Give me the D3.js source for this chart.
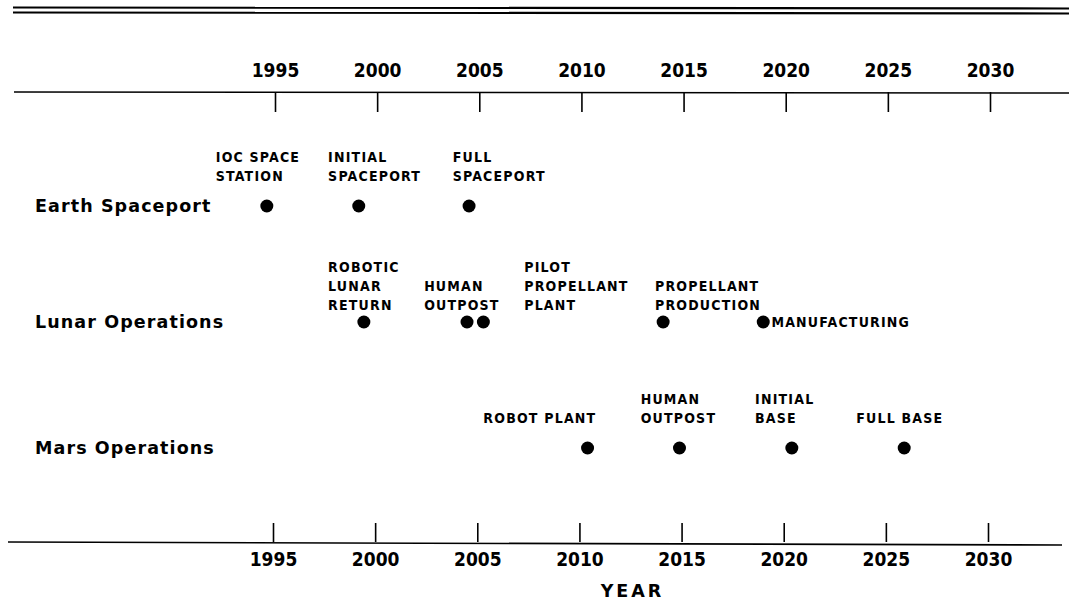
<!DOCTYPE html>
<html>
<head>
<meta charset="utf-8">
<script src="https://cdn.jsdelivr.net/npm/d3@7"></script>
<style>
body { margin: 0; background: #fff; }
svg text { fill: #000; }
.yr { font-family: "DejaVu Sans Condensed", "DejaVu Sans", sans-serif; font-stretch: condensed; font-weight: bold; font-size: 19px; }
.row { font-family: "DejaVu Sans", sans-serif; font-weight: bold; font-size: 17.5px; letter-spacing: 1.1px; }
.ms { font-family: "DejaVu Sans Condensed", "DejaVu Sans", sans-serif; font-stretch: condensed; font-weight: bold; font-size: 14px; letter-spacing: 1.2px; }
</style>
</head>
<body>
<svg id="chart" width="1069" height="604"></svg>
<script>
// tick years on both axes
var tickYears = [1995, 2000, 2005, 2010, 2015, 2020, 2025, 2030];

var rowNames = ["Earth Spaceport", "Lunar Operations", "Mars Operations"];

// Earth spaceport milestones
var earthYears = [1994.6, 1999.1, 2004.5];
var earthLabels = [["IOC SPACE", "STATION"], ["INITIAL", "SPACEPORT"], ["FULL", "SPACEPORT"]];
var earthLabelYears = [1992.1, 1997.6, 2003.7];

// lunar operations milestones
var lunarYears = [1999.35, 2004.4, 2005.2, 2014.0, 2018.9];
var lunarLabels = [["ROBOTIC", "LUNAR", "RETURN"], ["HUMAN", "OUTPOST"], ["PILOT", "PROPELLANT", "PLANT"], ["PROPELLANT", "PRODUCTION"], ["MANUFACTURING"]];
var lunarLabelYears = [1997.6, 2002.3, 2007.2, 2013.6, 2019.3];

// mars operations milestones
var marsYears = [2010.3, 2014.8, 2020.3, 2025.8];
var marsLabels = [["ROBOT PLANT"], ["HUMAN", "OUTPOST"], ["INITIAL", "BASE"], ["FULL BASE"]];
var marsLabelYears = [2005.2, 2012.9, 2018.5, 2023.45];

var svg = d3.select("#chart");

var x = d3.scaleLinear().domain([1995, 2030]).range([275, 990]);
var y = d3.scaleOrdinal().domain(rowNames).range([206, 322, 448]);  // row centres

// double rule along the top
[7.5, 12.5].forEach(function(yy) {
    svg.append("line")
        .attr("x1", 13).attr("x2", 1069)
        .attr("y1", yy).attr("y2", yy + 1)
        .style("stroke", "#000").style("stroke-width", 2.2);
});

// top axis: ticks hang down, labels above
var topY = 92;
svg.append("line").attr("x1", 14).attr("x2", 1069).attr("y1", topY).attr("y2", topY + 1)
    .style("stroke", "#000").style("stroke-width", 1.6);
var gTop = svg.append("g")
    .attr("transform", "translate(0," + topY + ")")
    .call(d3.axisTop(x).tickValues(tickYears).tickFormat(d3.format("d")).tickSize(-20).tickPadding(15));
gTop.select(".domain").remove();
gTop.selectAll(".tick line").style("stroke", "#000").style("stroke-width", 1.6);
gTop.selectAll(".tick text").attr("class", "yr").attr("font-family", null).attr("font-size", null);

// bottom axis: ticks stand up, labels below
var botY = 542;
svg.append("line").attr("x1", 8).attr("x2", 1062).attr("y1", botY).attr("y2", botY + 3)
    .style("stroke", "#000").style("stroke-width", 1.6);
var gBot = svg.append("g")
    .attr("transform", "translate(-2," + botY + ")")
    .call(d3.axisBottom(x).tickValues(tickYears).tickFormat(d3.format("d")).tickSize(-19).tickPadding(24));
gBot.select(".domain").remove();
gBot.selectAll(".tick line").style("stroke", "#000").style("stroke-width", 1.6);
gBot.selectAll(".tick text").attr("class", "yr").attr("dy", 0).attr("font-family", null).attr("font-size", null);

svg.append("text")
    .attr("class", "row")
    .attr("x", x(2012.5)).attr("y", 597)
    .attr("text-anchor", "middle")
    .style("letter-spacing", "3px")
    .text("YEAR");

// row names
svg.selectAll(".rowname")
    .data(rowNames)
    .enter().append("text")
    .attr("class", "row")
    .attr("x", 35)
    .attr("y", function(d) { return y(d) + 6; })
    .text(function(d) { return d; });

var rows = [
    { name: rowNames[0], years: earthYears, labels: earthLabels, labelYears: earthLabelYears, gap: 25 },
    { name: rowNames[1], years: lunarYears, labels: lunarLabels, labelYears: lunarLabelYears, gap: 12 },
    { name: rowNames[2], years: marsYears, labels: marsLabels, labelYears: marsLabelYears, gap: 25 }
];

var lineH = 19;

rows.forEach(function(r) {
    var cy = y(r.name);

    svg.selectAll(null)
        .data(r.years)
        .enter().append("circle")
        .attr("cx", function(d) { return x(d); })
        .attr("cy", cy)
        .attr("r", 6.5)
        .style("fill", "#000");

    r.labels.forEach(function(lines, i) {
        // the one label that sits beside its dot
        var inline = lines.length == 1 && lines[0] == "MANUFACTURING";
        var baseY = inline ? cy + 5 : cy - r.gap;
        var t = svg.append("text")
            .attr("class", "ms")
            .attr("x", x(r.labelYears[i]));
        lines.forEach(function(s, j) {
            t.append("tspan")
                .attr("x", x(r.labelYears[i]))
                .attr("y", baseY - (lines.length - 1 - j) * lineH)
                .text(s);
        });
    });
});
</script>
</body>
</html>
